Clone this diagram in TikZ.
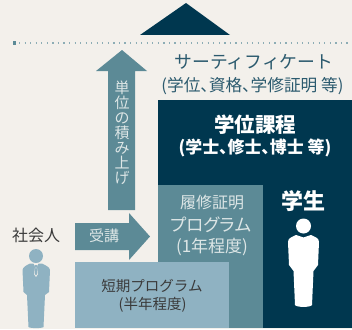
\documentclass[tikz,border=0pt]{standalone}
\usepackage{fontspec}
\setmainfont{Noto Sans CJK JP}
\newfontfamily\pfont[RawFeature=+palt]{Noto Sans CJK JP}
\definecolor{paper}{HTML}{F3F0EB}
\definecolor{navy}{HTML}{00374F}
\definecolor{teal}{HTML}{5C8A96}
\definecolor{pale}{HTML}{8FB2C2}
\definecolor{ink}{HTML}{3A3A3A}
\definecolor{title}{HTML}{2B5A6E}
\definecolor{soft}{HTML}{DDE6E6}
\tikzset{
  lbl/.style={inner sep=0pt,align=center,font=\fontsize{#1}{#1}\selectfont},
  plbl/.style={inner sep=0pt,align=center,font=\pfont\fontsize{#1}{#1}\selectfont},
  onnavy/.style={text=white},
  onteal/.style={text=soft},
  dark/.style={text=ink},
  dots/.style={draw=teal!70,line width=1.2pt,dash pattern=on 1.2pt off 4.35pt}
}
\begin{document}
\begin{tikzpicture}[x=1pt,y=-1pt]
\path[use as bounding box,fill=paper] (0,0) rectangle (352,329);
% top triangle, dotted rule
\fill[navy] (186,3) -- (230,35) -- (140,35) -- cycle;
\fill[teal] (13,41) rectangle (16,45);
\draw[dots] (19,43) -- (352,43);
% blocks
\fill[navy] (158,100) rectangle (352,328);
\fill[teal] (158,185) rectangle (263,328);
\fill[pale] (75,262) rectangle (229,328);
% arrows
\fill[teal] (122,50) -- (147,71) -- (135,71) -- (135,210) -- (108,210) -- (108,71) -- (96,71) -- cycle;
\fill[teal] (75,223) -- (129,223) -- (129,213) -- (150,236.5) -- (129,260) -- (129,250) -- (75,250) -- cycle;
% person, pale
\fill[pale] (36,256) circle (7);
\fill[pale] (22.5,270) .. controls (23,267) and (26,265.5) .. (30,263.5) -- (33,263.5) -- (36,266) -- (39,263.5) -- (42,263.5)
  .. controls (46,265.5) and (49.5,267) .. (50,270) -- (49,292) -- (45,295) -- (43.5,327) .. controls (42,328.5) and (30,328.5) .. (28.5,327) -- (27,295) -- (23.5,292) -- cycle;
\fill[paper] (34,264) -- (38,264) -- (36.8,267) -- (38,274) -- (36,277) -- (34,274) -- (35.2,267) -- cycle;
\fill[pale] (34.6,265) -- (37.4,265) -- (36.6,267.5) -- (37.4,273.5) -- (36,275.5) -- (34.6,273.5) -- (35.4,267.5) -- cycle;
% person, white
\fill[white] (303.5,226) circle (7.5);
\fill[white] (288,242) .. controls (288,238) and (292,237) .. (296,235) .. controls (299,236) and (301,236.5) .. (303.5,237.5) .. controls (306,236.5) and (308,236) .. (311,235)
  .. controls (315,237) and (319,238) .. (319,242) -- (318,265) -- (313.5,271) -- (312,305) .. controls (311,307.5) and (296,307.5) .. (295,305) -- (293.5,271) -- (289,265) -- cycle;
% labels
\node[lbl=17.8,text=title] (cert) at (254,62) {サーティフィケート};
\node[plbl=16.7,text=title] (certsub) at (252.5,86) {(学位、資格、学修証明 等)};
\node[lbl=20.5,onnavy,font=\fontsize{20.5}{20.5}\selectfont\bfseries] (deg) at (255,125) {学位課程};
\node[plbl=16.9,onnavy,font=\pfont\fontsize{16.9}{16.9}\selectfont\bfseries] (degsub) at (255,148) {(学士、修士、博士 等)};
\node[lbl=22,onnavy,font=\fontsize{22}{22}\selectfont\bfseries] (student) at (303,201) {学生};
\node[lbl=16,onteal] (c1) at (212,202) {履修証明};
\node[plbl=17.5,onteal] (c2) at (211,225) {プログラム};
\node[plbl=17,onteal] (c3) at (212,247) {(1年程度)};
\node[lbl=14.5,dark] (s1) at (152,286) {短期プログラム};
\node[lbl=14.5,dark] (s2) at (152.5,305) {(半年程度)};
\node[lbl=16,dark] (adult) at (36,235) {社会人};
\node[lbl=15,onteal] (enroll) at (104,236) {受講};
\node[lbl=15,onteal,align=center,font=\fontsize{15}{15}\selectfont] (credit) at (122,133) {単\\位\\の\\積\\み\\上\\げ};
\end{tikzpicture}
\end{document}
